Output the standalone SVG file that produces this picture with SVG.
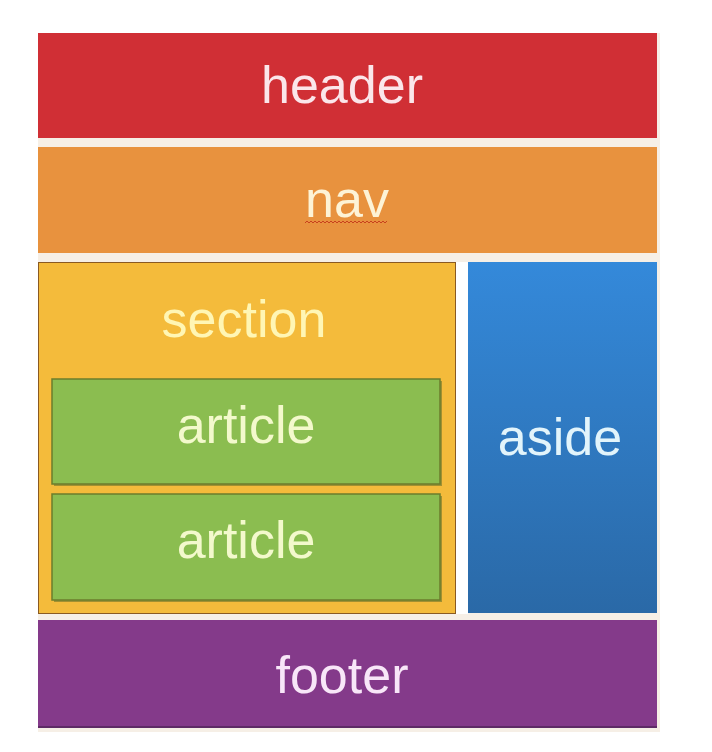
<svg xmlns="http://www.w3.org/2000/svg" width="712" height="752" viewBox="0 0 712 752">
  <defs>
    <linearGradient id="asideGrad" x1="0" y1="0" x2="0" y2="1">
      <stop offset="0" stop-color="#3489da"/>
      <stop offset="1" stop-color="#2a69a7"/>
    </linearGradient>
    <style>
      .lbl { font-family: "Liberation Sans", Arial, sans-serif; font-size: 52px; text-anchor: middle; }
      .art { fill: #8bbd50; stroke: #6b7d2c; stroke-width: 1.5; }
      .shadow { fill: #5e6e2a; opacity: 0.55; }
    </style>
  </defs>
  <rect x="0" y="0" width="712" height="752" fill="#ffffff"/>
  <rect x="38" y="33" width="622" height="699" fill="#f6efe6"/>
  <rect x="456" y="262" width="12" height="352" fill="#ffffff"/>

  <g id="header">
    <rect x="38" y="33" width="619" height="105" fill="#d02f35"/>
    <text class="lbl" x="342" y="103" fill="#fbe6ea">header</text>
  </g>

  <g id="nav">
    <rect x="38" y="147" width="619" height="106" fill="#e8923e"/>
    <text class="lbl" x="347" y="217" fill="#fdf3d6">nav</text>
    <path d="M305 223 l2 -2 l2 2 l2 -2 l2 2 l2 -2 l2 2 l2 -2 l2 2 l2 -2 l2 2 l2 -2 l2 2 l2 -2 l2 2 l2 -2 l2 2 l2 -2 l2 2 l2 -2 l2 2 l2 -2 l2 2 l2 -2 l2 2 l2 -2 l2 2 l2 -2 l2 2 l2 -2 l2 2 l2 -2 l2 2 l2 -2 l2 2 l2 -2 l2 2 l2 -2 l2 2 l2 -2 l2 2 l2 -2" fill="none" stroke="#c8401e" stroke-width="1"/>
  </g>

  <g id="section">
    <rect x="38.5" y="262.5" width="417" height="351" fill="#f4bb3b" stroke="#8a5a22" stroke-width="1"/>
    <text class="lbl" x="244" y="337" fill="#fff6b4">section</text>
  </g>

  <g id="article1">
    <rect class="shadow" x="54" y="381" width="388" height="105"/>
    <rect class="art" x="52" y="379" width="388" height="105"/>
    <text class="lbl" x="246" y="443" fill="#f3f9cc">article</text>
  </g>

  <g id="article2">
    <rect class="shadow" x="54" y="496" width="388" height="106"/>
    <rect class="art" x="52" y="494" width="388" height="106"/>
    <text class="lbl" x="246" y="558" fill="#f3f9cc">article</text>
  </g>

  <g id="aside">
    <rect x="468" y="262" width="189" height="351" fill="url(#asideGrad)"/>
    <text class="lbl" x="560" y="455" fill="#e2f4fb">aside</text>
  </g>

  <g id="footer">
    <rect x="38" y="620" width="619" height="108" fill="#843a8a"/>
    <rect x="38" y="726" width="619" height="2" fill="#5e2a66"/>
    <text class="lbl" x="342" y="693" fill="#f8e6f8">footer</text>
  </g>

  <g id="connectors"/>
</svg>
